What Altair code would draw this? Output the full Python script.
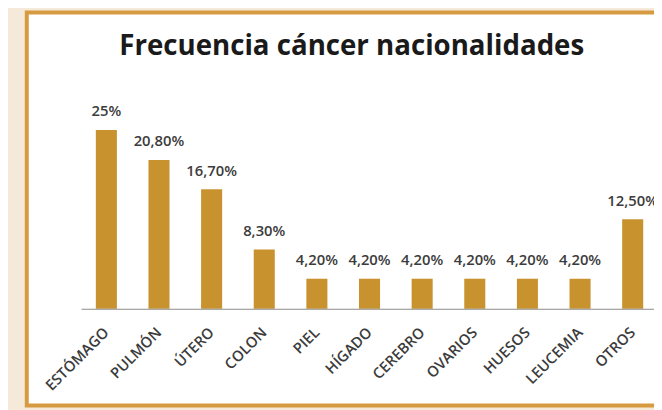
import altair as alt
import pandas as pd

categorias = ["ESTÓMAGO", "PULMÓN", "ÚTERO", "COLON", "PIEL", "HÍGADO",
              "CEREBRO", "OVARIOS", "HUESOS", "LEUCEMIA", "OTROS"]
valores = [25, 20.8, 16.7, 8.3, 4.2, 4.2, 4.2, 4.2, 4.2, 4.2, 12.5]
etiquetas = ["25%", "20,80%", "16,70%", "8,30%", "4,20%", "4,20%", "4,20%",
             "4,20%", "4,20%", "4,20%", "12,50%"]
titulo = "Frecuencia cáncer nacionalidades"

df = pd.DataFrame({"cat": categorias, "val": valores, "lab": etiquetas})

FONT = "Open Sans"
BAR = "#C8922F"

xenc = alt.X("cat:N", sort=None,
             scale=alt.Scale(range=[0, 584], paddingInner=0.6, paddingOuter=0.28),
             axis=alt.Axis(title=None, ticks=False, labelAngle=-45, labelAlign="right",
                           labelBaseline="middle", labelPadding=21, labelFont=FONT,
                           labelFontSize=15, labelFontWeight=600, labelColor="#3c3c3c",
                           domainColor="#8c8c8c", domainWidth=1.2, grid=False, zindex=1))
yenc = alt.Y("val:Q", scale=alt.Scale(domain=[0, 25], nice=False), axis=None)

panel = alt.Chart(pd.DataFrame({"a": [0]})).mark_rect(
    fill="white", stroke="#D69A40", strokeWidth=4
).encode(x=alt.value(-55), x2=alt.value(700), y=alt.value(-119), y2=alt.value(279))

bars = alt.Chart(df).mark_bar(color=BAR).encode(x=xenc, y=yenc)

labels = alt.Chart(df).mark_text(
    font=FONT, fontSize=15, fontWeight=600, color="#3c3c3c", baseline="middle", dy=-19
).encode(x=alt.X("cat:N", sort=None), y="val:Q", text="lab:N")

title = alt.Chart(pd.DataFrame({"t": [titulo]})).mark_text(
    font=FONT, fontSize=28, fontWeight="bold", color="#1a1a1a", baseline="alphabetic"
).encode(x=alt.value(274), y=alt.value(-76), text="t:N")

chart = alt.layer(panel, bars, labels, title).properties(
    width=580, height=181,
    autosize=alt.AutoSizeParams(type="none"),
    padding={"left": 74, "top": 121, "right": 0, "bottom": 100},
    background="#F5EAD9",
).configure_view(stroke=None)

chart.save("out.html", embed_options={"renderer": "svg", "actions": False})
